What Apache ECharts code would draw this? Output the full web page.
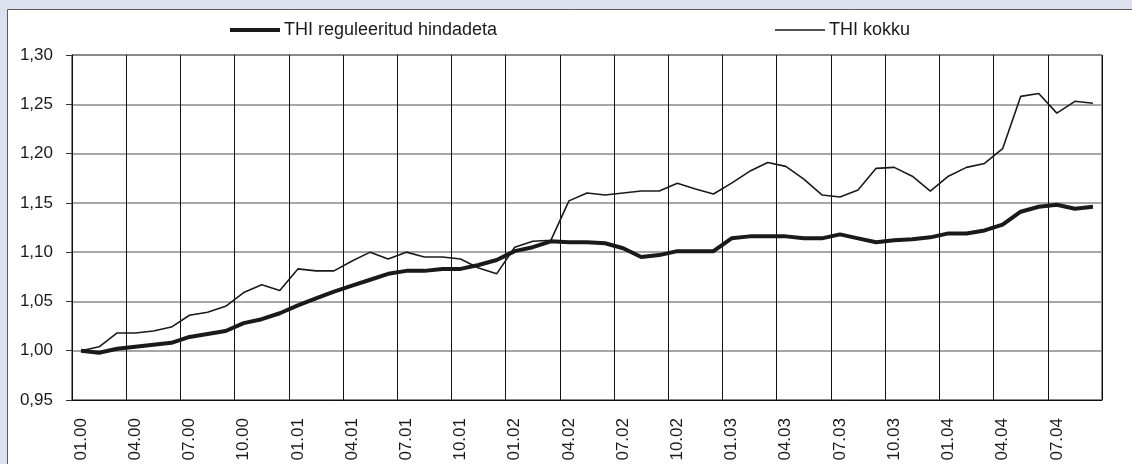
<!DOCTYPE html>
<html>
<head>
<meta charset="utf-8">
<script src="https://cdn.jsdelivr.net/npm/echarts@6/dist/echarts.min.js"></script>
<style>
  html, body { margin: 0; padding: 0; background: #dde0ee; }
  #chart { width: 1132px; height: 464px; }
</style>
</head>
<body>
<div id="chart"></div>
<script>
// kuud 01.00 ... 09.04
const months = [
  '01.00', '02.00', '03.00', '04.00', '05.00', '06.00', '07.00', '08.00', '09.00', '10.00', '11.00', '12.00',
  '01.01', '02.01', '03.01', '04.01', '05.01', '06.01', '07.01', '08.01', '09.01', '10.01', '11.01', '12.01',
  '01.02', '02.02', '03.02', '04.02', '05.02', '06.02', '07.02', '08.02', '09.02', '10.02', '11.02', '12.02',
  '01.03', '02.03', '03.03', '04.03', '05.03', '06.03', '07.03', '08.03', '09.03', '10.03', '11.03', '12.03',
  '01.04', '02.04', '03.04', '04.04', '05.04', '06.04', '07.04', '08.04', '09.04'
]
const regulated = [
  1.000, 0.998, 1.002, 1.004, 1.006, 1.008, 1.014, 1.017, 1.020, 1.028, 1.032, 1.038,
  1.046, 1.053, 1.060, 1.066, 1.072, 1.078, 1.081, 1.081, 1.083, 1.083, 1.087, 1.092,
  1.101, 1.105, 1.111, 1.110, 1.110, 1.109, 1.104, 1.095, 1.097, 1.101, 1.101, 1.101,
  1.114, 1.116, 1.116, 1.116, 1.114, 1.114, 1.118, 1.114, 1.110, 1.112, 1.113, 1.115,
  1.119, 1.119, 1.122, 1.128, 1.141, 1.146, 1.148, 1.144, 1.146
]
const total = [
  1.000, 1.004, 1.018, 1.018, 1.020, 1.024, 1.036, 1.039, 1.045, 1.059, 1.067, 1.061,
  1.083, 1.081, 1.081, 1.091, 1.100, 1.093, 1.100, 1.095, 1.095, 1.093, 1.084, 1.078,
  1.105, 1.111, 1.112, 1.152, 1.160, 1.158, 1.160, 1.162, 1.162, 1.170, 1.164, 1.159,
  1.170, 1.182, 1.191, 1.187, 1.174, 1.158, 1.156, 1.163, 1.185, 1.186, 1.177, 1.162,
  1.177, 1.186, 1.190, 1.205, 1.258, 1.261, 1.241, 1.253, 1.251
]
const seriesNames = ['THI reguleeritud hindadeta', 'THI kokku']

const fontName = '"Liberation Sans", Arial, sans-serif'
const chartInstance = echarts.init(document.getElementById('chart'))

const option = {
  animation: false,
  textStyle: { fontFamily: fontName, color: '#1a1a1a' },
  graphic: [
    {
      // valge paneel
      type: 'rect',
      z: -10,
      shape: { x: 7.5, y: 9.5, width: 1140, height: 470 },
      style: { fill: '#ffffff', stroke: '#5a5a5a', lineWidth: 1 }
    }
  ],
  legend: [
    {
      data: [seriesNames[0]],
      left: 230,
      top: 21,
      padding: 0,
      icon: 'rect',
      itemWidth: 50,
      itemHeight: 4,
      itemGap: 4,
      textStyle: { fontSize: 18, color: '#1a1a1a', fontFamily: fontName, padding: [0, 0, 0, -1] }
    },
    {
      data: [seriesNames[1]],
      left: 775,
      top: 21,
      padding: 0,
      icon: 'rect',
      itemWidth: 50,
      itemHeight: 1.6,
      textStyle: { fontSize: 18, color: '#1a1a1a', fontFamily: fontName, padding: [0, 0, 0, -1] }
    }
  ],
  grid: {
    left: 72,
    right: 30,
    top: 55,
    bottom: 64,
    show: true,
    borderColor: '#111',
    borderWidth: 1,
    backgroundColor: 'transparent'
  },
  xAxis: {
    type: 'category',
    data: months,
    boundaryGap: true,
    axisLine: { lineStyle: { color: '#111', width: 1 } },
    axisTick: { show: false },
    axisLabel: {
      interval: 2,
      rotate: 90,
      margin: 18,
      fontSize: 17,
      color: '#1a1a1a',
      fontFamily: fontName
    },
    splitLine: {
      show: true,
      interval: 2,
      lineStyle: { color: '#111', width: 1 }
    }
  },
  yAxis: {
    type: 'value',
    min: 0.95,
    max: 1.30,
    interval: 0.05,
    axisLine: { show: true, lineStyle: { color: '#111', width: 1 } },
    axisTick: { show: true, length: 6, lineStyle: { color: '#333' } },
    axisLabel: {
      margin: 19,
      fontSize: 17,
      color: '#1a1a1a',
      fontFamily: fontName,
      formatter: v => v.toFixed(2).replace('.', ',')
    },
    splitLine: { lineStyle: { color: '#8a8a8a', width: 1.5 } }
  },
  series: [
    {
      name: seriesNames[0],
      type: 'line',
      data: regulated,
      symbol: 'none',
      z: 3,
      lineStyle: { color: '#1a1a1a', width: 4 },
      itemStyle: { color: '#1a1a1a' }
    },
    {
      name: seriesNames[1],
      type: 'line',
      data: total,
      symbol: 'none',
      z: 4,
      lineStyle: { color: '#1a1a1a', width: 1.6 },
      itemStyle: { color: '#1a1a1a' }
    }
  ]
}
chartInstance.setOption(option)
</script>
</body>
</html>
